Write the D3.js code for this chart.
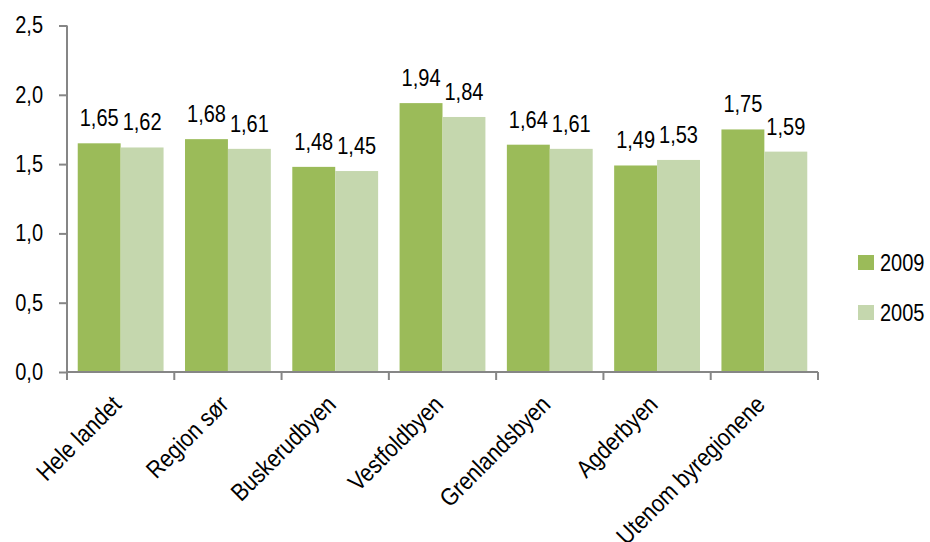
<!DOCTYPE html>
<html><head><meta charset="utf-8">
<script src="https://cdn.jsdelivr.net/npm/d3@7/dist/d3.min.js"></script>
<style>
body{margin:0;background:#fff;}
text{font-family:"Liberation Sans",Arial,sans-serif;fill:#000;}
</style></head>
<body><svg id="c" width="930" height="542"></svg>
<script>
const categories = ["Hele landet","Region sør","Buskerudbyen","Vestfoldbyen","Grenlandsbyen","Agderbyen","Utenom byregionene"];
const seriesNames = ["2009","2005"];
const values2009 = [1.65,1.68,1.48,1.94,1.64,1.49,1.75];
const values2005 = [1.62,1.61,1.45,1.84,1.61,1.53,1.59];
const yTicks = [0,0.5,1.0,1.5,2.0,2.5];
const colors = ["#9BBB59","#C5D7AE"];

(function(){
const svg = d3.select("#c");
const mLeft = 67, mRight = 818, mTop = 25.5, mBottom = 372;
const FS = "23px", SX = 0.87;
const fmt = v => d3.format(".1f")(v).replace(".", ",");
const fmt2 = v => d3.format(".2f")(v).replace(".", ",");

const y = d3.scaleLinear().domain([0,2.5]).range([mBottom, mTop]);
const x0 = d3.scaleBand().domain(categories).range([mLeft,mRight]).paddingInner(0.2).paddingOuter(0.1);
const x1 = d3.scaleBand().domain(seriesNames).range([0, x0.bandwidth()]);
const data = categories.map((c,i)=>({cat:c, vals:[values2009[i], values2005[i]]}));

const g = svg.append("g");
data.forEach(d=>{
  d.vals.forEach((v,j)=>{
    g.append("rect")
      .attr("x", x0(d.cat)+x1(seriesNames[j]))
      .attr("y", y(v))
      .attr("width", x1.bandwidth())
      .attr("height", y(0)-y(v))
      .attr("fill", colors[j]);
    g.append("text")
      .attr("transform", `translate(${x0(d.cat)+x1(seriesNames[j])+x1.bandwidth()/2},${y(v)-17}) scale(${SX},1)`)
      .attr("text-anchor","middle")
      .style("font-size",FS)
      .text(fmt2(v));
  });
});

const yAxis = d3.axisLeft(y).tickValues(yTicks).tickFormat(fmt).tickSize(8).tickPadding(16);
const ya = svg.append("g").attr("transform",`translate(${mLeft},0)`).call(yAxis);
ya.selectAll("path,line").attr("stroke","#868686").attr("stroke-width",2);
ya.select(".domain").attr("d",`M0,${mTop}V${mBottom}`);
ya.selectAll("text").attr("font-family",null).attr("font-size",null)
  .style("font-size",FS)
  .attr("transform",`translate(-24,0) scale(${SX},1)`).attr("x",0);

const xa = svg.append("g").attr("transform",`translate(0,${mBottom})`);
xa.append("line").attr("x1",mLeft).attr("x2",mRight).attr("stroke","#868686").attr("stroke-width",2);
const boundaries = d3.range(categories.length+1).map(i=>mLeft + i*x0.step());
xa.selectAll("line.tk").data(boundaries).join("line").attr("class","tk")
  .attr("x1",d=>d).attr("x2",d=>d).attr("y1",0).attr("y2",8)
  .attr("stroke","#868686").attr("stroke-width",2);
xa.selectAll("text").data(categories).join("text")
  .attr("transform",d=>`translate(${x0(d)+x0.bandwidth()/2-4},${28}) rotate(-45) scale(${SX},1)`)
  .attr("text-anchor","end")
  .attr("dy","0.35em")
  .style("font-size","24.5px")
  .text(d=>d);

const lg = svg.append("g").attr("transform","translate(858,255)");
seriesNames.forEach((s,i)=>{
  lg.append("rect").attr("x",0).attr("y",i*50).attr("width",16).attr("height",15).attr("fill",colors[i]);
  lg.append("text").attr("transform",`translate(22,${i*50+7.5}) scale(${SX},1)`).attr("dy","0.35em").style("font-size",FS).text(s);
});
})();
</script></body></html>
